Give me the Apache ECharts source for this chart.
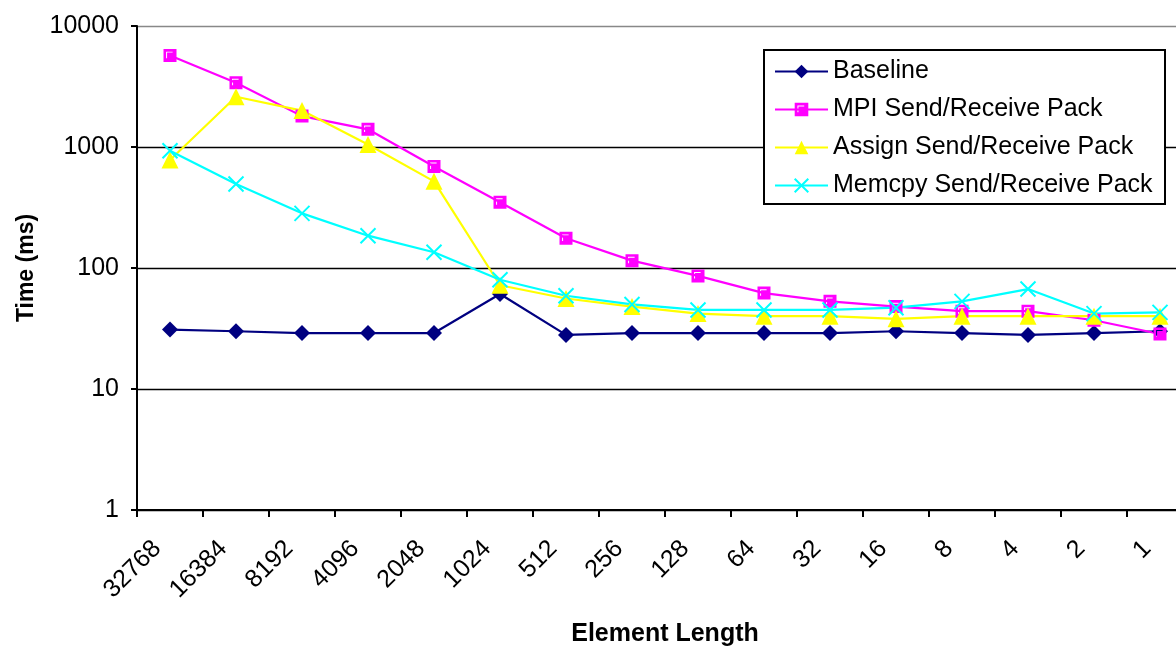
<!DOCTYPE html>
<html>
<head>
<meta charset="utf-8">
<script src="https://cdn.jsdelivr.net/npm/echarts@6/dist/echarts.min.js"></script>
<style>
html,body{margin:0;padding:0;background:#fff;}
#chart{width:1176px;height:656px;}
</style>
</head>
<body>
<div id="chart"></div>
<script>
var categories = ['32768','16384','8192','4096','2048','1024','512','256','128','64','32','16','8','4','2','1'];
var baseline = [31,30,29,29,29,61,28,29,29,29,29,30,29,28,29,30];
var mpiPack = [5700,3400,1800,1400,690,350,176,115,86,62,53,48,44,44,37,28.5];
var assignPack = [780,2600,2000,1050,520,72,56,48,42,40,40,38,40,40,40,40];
var memcpyPack = [930,495,283,185,135,80,59,50,45,45,45,47,53,67,42,43];
var seriesNames = ['Baseline','MPI Send/Receive Pack','Assign Send/Receive Pack','Memcpy Send/Receive Pack'];
var yTicks = [1,10,100,1000,10000];

var FONT = '"Liberation Sans", Arial, sans-serif';
var chart = echarts.init(document.getElementById('chart'), null, {renderer:'canvas'});

var squareSym = 'path://M0,0 L20,0 L20,20 L0,20 Z M4,4 L4,14 L5.5,14 L5.5,5.5 L14,5.5 L14,4 Z';
var crossSym = 'path://M0,0 L10,10 M10,0 L0,10';

function mk(name, data, color, symbol, size, extra) {
  var s = {
    name: name, type: 'line', data: data,
    symbol: symbol, symbolSize: size,
    lineStyle: {color: color, width: 2.2},
    itemStyle: {color: color, borderWidth: 0},
    animation: false
  };
  if (extra) for (var k in extra) s[k] = extra[k];
  return s;
}

chart.setOption({
  backgroundColor: '#fff',
  animation: false,
  textStyle: {fontFamily: FONT},
  grid: {left: 137, top: 26, width: 1056, height: 484, containLabel: false, outerBoundsMode: 'none'},
  legend: {
    orient: 'vertical',
    left: 764, top: 50,
    padding: [9, 6, 6, 10],
    itemWidth: 53, itemHeight: 17, itemGap: 13,
    borderColor: '#000', borderWidth: 2,
    backgroundColor: '#fff',
    data: seriesNames,
    textStyle: {fontFamily: FONT, fontSize: 25, color: '#000', lineHeight: 25, width: 326}
  },
  xAxis: {
    type: 'category',
    data: categories,
    boundaryGap: true,
    name: 'Element Length',
    nameLocation: 'middle',
    nameGap: 112,
    nameTextStyle: {fontFamily: FONT, fontSize: 25, fontWeight: 'bold', color: '#000'},
    axisLine: {lineStyle: {color: '#000', width: 2}},
    axisTick: {show: true, length: 7, lineStyle: {color: '#000', width: 2}},
    axisLabel: {rotate: 45, margin: 22, interval: 0, fontFamily: FONT, fontSize: 25, color: '#000', padding: [0, 18, 0, 0]},
    splitLine: {show: false}
  },
  yAxis: {
    type: 'log',
    logBase: 10,
    min: yTicks[0], max: yTicks[yTicks.length - 1],
    name: 'Time (ms)',
    nameLocation: 'middle',
    nameGap: 98,
    nameTextStyle: {fontFamily: FONT, fontSize: 23, fontWeight: 'bold', color: '#000'},
    axisLine: {show: true, lineStyle: {color: '#000', width: 2}},
    axisTick: {show: true, length: 6, lineStyle: {color: '#000', width: 2}},
    axisLabel: {margin: 18, fontFamily: FONT, fontSize: 25, color: '#000', formatter: function (v) { return String(v); }},
    splitLine: {show: true, lineStyle: {color: ['#000','#000','#000','#000','#888'], width: 1.3}}
  },
  series: [
    mk(seriesNames[0], baseline, '#000080', 'diamond', 16),
    mk(seriesNames[1], mpiPack, '#FF00FF', squareSym, 13),
    mk(seriesNames[2], assignPack, '#FFFF00', 'triangle', 17),
    mk(seriesNames[3], memcpyPack, '#00FFFF', crossSym, 15, {itemStyle: {color: '#00FFFF', borderColor: '#00FFFF', borderWidth: 2}})
  ]
});
</script>
</body>
</html>
